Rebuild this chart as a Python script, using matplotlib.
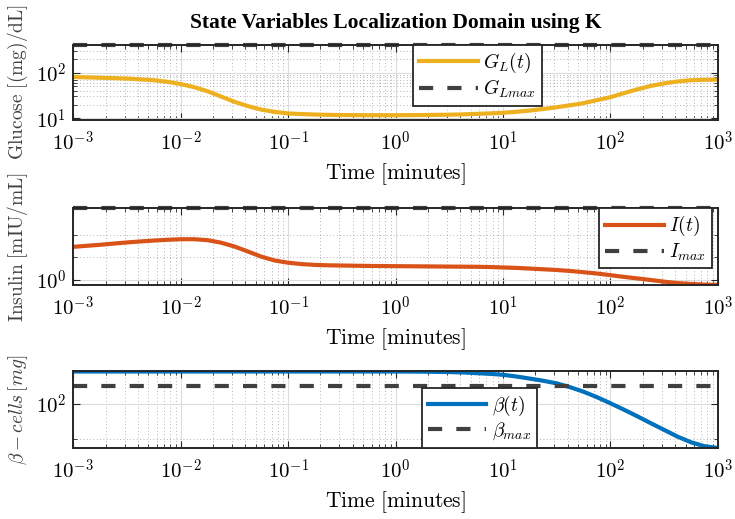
import numpy as np
import matplotlib
matplotlib.use("Agg")
import matplotlib.pyplot as plt
from matplotlib.ticker import LogLocator, FixedLocator, FuncFormatter, NullFormatter

# -------------------------------------
#  Data
# -------------------------------------

# sample times as log10(minutes)
log_t = [-3.0, -2.875, -2.75, -2.625, -2.5, -2.375, -2.25, -2.125,
         -2.0, -1.875, -1.75, -1.625, -1.5, -1.375, -1.25, -1.125,
         -1.0, -0.875, -0.75, -0.625, -0.5, -0.375, -0.25, -0.125,
         0.0, 0.125, 0.25, 0.375, 0.5, 0.625, 0.75, 0.875,
         1.0, 1.125, 1.25, 1.375, 1.5, 1.625, 1.75, 1.875,
         2.0, 2.125, 2.25, 2.375, 2.5, 2.625, 2.75, 2.875, 3.0]

glucose = [80, 78.5, 77, 75.5, 74, 71, 68, 63,
           56, 48, 39, 30, 23, 18.5, 15.5, 13.8,
           12.8, 12.4, 12.1, 11.9, 11.8, 11.75, 11.7, 11.7,
           11.7, 11.75, 11.8, 11.9, 12.0, 12.2, 12.5, 12.8,
           13.2, 13.9, 14.8, 16, 17.5, 19.3, 21.5, 25,
           29, 35.5, 43, 51, 58, 64, 68, 69.5, 70]

insulin = [2.77, 2.86, 2.95, 3.06, 3.17, 3.27, 3.36, 3.44,
           3.5, 3.5, 3.4, 3.15, 2.8, 2.4, 2.05, 1.82,
           1.7, 1.63, 1.59, 1.57, 1.56, 1.55, 1.54, 1.535,
           1.53, 1.525, 1.52, 1.515, 1.51, 1.505, 1.5, 1.49,
           1.47, 1.45, 1.42, 1.39, 1.36, 1.32, 1.27, 1.22,
           1.16, 1.1, 1.05, 1.0, 0.95, 0.91, 0.885, 0.868, 0.86]

beta = [190, 190, 190, 190, 190, 190, 190, 190,
        190, 190, 190, 190, 190, 190, 190, 190,
        190, 190, 190, 190, 190, 190, 190, 190,
        190, 189.7, 189.3, 188.7, 188, 186.5, 184, 181.5,
        178, 172, 165, 158, 150, 139, 127, 114,
        101, 89, 78, 68, 59.5, 52, 46.5, 43, 41.5]

G_MAX = 400
I_MAX = 9
B_MAX = 143

x_ticks = [1e-3, 1e-2, 1e-1, 1e0, 1e1, 1e2, 1e3]

# -------------------------------------
#  Style
# -------------------------------------

plt.rcParams["mathtext.fontset"] = "cm"
plt.rcParams["font.family"] = ["DejaVu Serif"]

C_GOLD = "#EDB120"
C_ORANGE = "#D95319"
C_BLUE = "#0072BD"
C_DASH = "#404040"
C_AX = "#262626"

t = np.power(10.0, np.array(log_t))


def pow10(v, pos):
    return r"$10^{%d}$" % int(round(np.log10(v)))


def style_axes(ax, ylim, yminor):
    ax.set_xscale("log")
    ax.set_yscale("log")
    ax.set_xlim(1e-3, 1e3)
    ax.set_ylim(*ylim)
    ax.xaxis.set_major_locator(FixedLocator(x_ticks))
    ax.xaxis.set_minor_locator(LogLocator(base=10, subs=np.arange(2, 10), numticks=20))
    ax.xaxis.set_major_formatter(FuncFormatter(pow10))
    ax.xaxis.set_minor_formatter(NullFormatter())
    ax.yaxis.set_major_locator(LogLocator(base=10, numticks=10))
    ax.yaxis.set_major_formatter(FuncFormatter(pow10))
    ax.yaxis.set_minor_locator(yminor)
    ax.yaxis.set_minor_formatter(NullFormatter())
    ax.grid(True, which="major", color="#dcdcdc", lw=0.8, ls="-")
    ax.grid(True, which="minor", color="#9a9a9a", lw=0.6, ls=(0, (1, 3)))
    ax.set_axisbelow(True)
    ax.tick_params(which="both", direction="in", top=True, right=True,
                   color=C_AX, labelsize=15, pad=5)
    ax.tick_params(axis="x", which="major", pad=8)
    ax.tick_params(which="major", length=5, width=0.8)
    ax.tick_params(which="minor", length=3, width=0.6)
    for s in ax.spines.values():
        s.set_color(C_AX)
        s.set_linewidth(1.4)
    ax.set_xlabel(r"$\mathrm{Time\ [minutes]}$", fontsize=15.5, labelpad=4)


def add_legend(ax, loc, anchor):
    leg = ax.legend(loc=loc, bbox_to_anchor=anchor, borderaxespad=0,
                    fontsize=14, handlelength=3.0, handletextpad=0.3,
                    labelspacing=0.15, borderpad=0.3, fancybox=False,
                    framealpha=1, edgecolor=C_AX)
    leg.get_frame().set_linewidth(1.3)
    return leg


fig = plt.figure(figsize=(7.35, 5.19), dpi=100)
left, width = 0.0997, 0.877
ax1 = fig.add_axes([left, 0.7688, width, 0.1445])
ax2 = fig.add_axes([left, 0.4509, width, 0.1474])
ax3 = fig.add_axes([left, 0.1368, width, 0.1484])

dash = (0, (3.4, 3.4))

# Glucose
ax1.plot(t, glucose, color=C_GOLD, lw=3, label=r"$G_L(t)$")
ax1.plot(t, np.full_like(t, G_MAX), color=C_DASH, lw=3, ls=dash,
         label=r"$G_{Lmax}$", clip_on=False)
style_axes(ax1, (9.2, G_MAX), LogLocator(base=10, subs=np.arange(2, 10), numticks=20))
ax1.set_ylabel(r"$\mathrm{Glucose\ [(mg)/dL]}$", fontsize=14, color="#404040", labelpad=4)
add_legend(ax1, "upper left", (0.5276, 1.0))
ax1.set_title("State Variables Localization Domain using K", fontsize=15.5,
              fontweight="bold", family="Liberation Serif", pad=12)

# Insulin
ax2.plot(t, insulin, color=C_ORANGE, lw=3, label=r"$I(t)$")
ax2.plot(t, np.full_like(t, I_MAX), color=C_DASH, lw=3, ls=dash,
         label=r"$I_{max}$", clip_on=False)
style_axes(ax2, (0.858, I_MAX), FixedLocator([2, 4]))
ax2.set_ylabel(r"$\mathrm{Insulin\ [mIU/mL]}$", fontsize=14, color="#404040", labelpad=4)
add_legend(ax2, "upper right", (0.991, 1.0))

# Beta cells
ax3.plot(t, beta, color=C_BLUE, lw=3, label=r"$\beta(t)$")
ax3.plot(t, np.full_like(t, B_MAX), color=C_DASH, lw=3, ls=dash,
         label=r"$\beta_{max}$")
style_axes(ax3, (41.5, 192), FixedLocator([50]))
ax3.set_ylabel(r"$\beta - cells\,[mg]$", fontsize=14, color="#404040", labelpad=4)
add_legend(ax3, "lower left", (0.541, 0.0))

fig.savefig("out.png", dpi=100)
